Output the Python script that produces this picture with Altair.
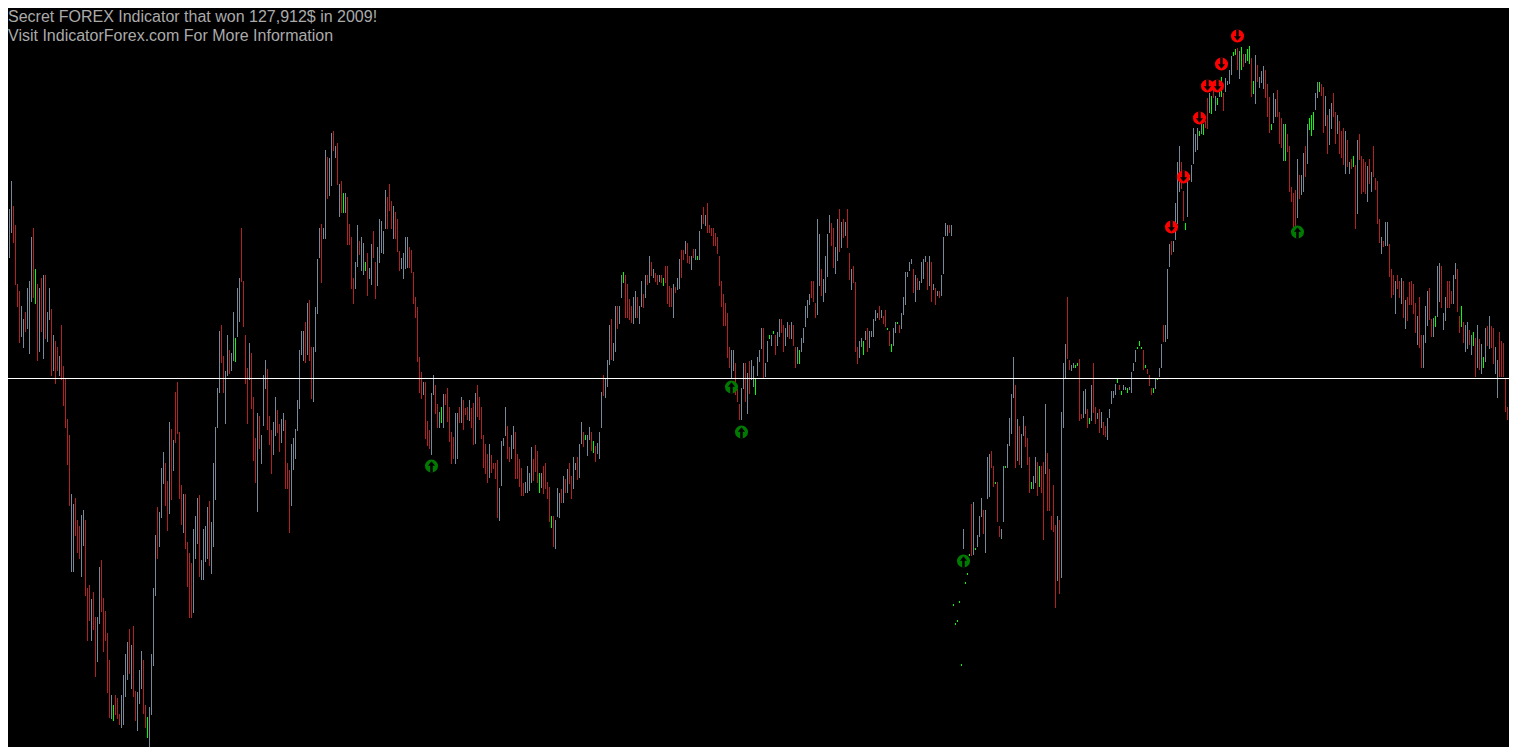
import altair as alt
import pandas as pd

TITLE_LINE_1 = "Secret FOREX Indicator that won 127,912$ in 2009!"
TITLE_LINE_2 = "Visit IndicatorForex.com For More Information"

TOP_PRICE = 1.4500
PIP = 0.0001
KINDS = ["G", "R", "L"]
KIND_COLORS = ["#778899", "#B22222", "#00FF00"]

# (kind, high, low) — levels read as points below TOP_PRICE, one bar per period
BARS_1 = [
    ("G",281,326),("R",281,306),("L",288,301),("G",237,298),("G",209,257),("G",181,232),("R",206,242),("R",225,284),("R",284,306),("R",291,342),
    ("G",306,336),("G",319,347),("R",312,331),("G",288,328),("G",281,353),("G",237,301),("R",228,297),("L",269,303),("R",284,360),("G",288,351),
    ("R",278,331),("G",275,358),("R",275,338),("G",312,341),("G",288,319),("R",309,375),("G",335,370),("R",341,383),("R",347,370),("G",356,375),
    ("R",325,379),("R",366,405),("R",379,427),("R",419,464),("R",435,505),("G",494,571),("G",504,571),("R",498,535),("R",520,552),("R",526,558),
    ("G",515,576),("G",510,545),("R",520,595),("R",588,640),("R",585,620),("G",599,640),("R",592,629),("R",617,676),("G",617,661),("G",567,623),
    ("R",560,611),("R",598,651),("R",611,640),("R",633,692),("R",660,717),("G",695,718),("L",705,720),("R",695,714),("R",698,718),("R",714,724),
    ("G",695,727),("G",675,724),("G",654,696),("G",642,679),("R",629,673),("G",645,688),("R",626,696),("R",691,720),("G",692,730),("G",670,703),
    ("G",651,688),("R",660,713),("R",705,727),("L",717,737),("G",707,752),("G",654,714),("G",588,665),("G",535,595),("R",507,558),("G",512,546),
    ("G",468,517),("G",452,483),("R",463,505),("R",481,530),("G",422,513),("R",429,499),("G",440,470),("R",392,442),("R",382,433),("R",432,498),
    ("R",485,524),("G",494,532),("R",494,548),("R",542,586),("R",553,617),("R",563,617),("G",529,612),("G",516,558),("G",498,543),("R",495,576),
    ("G",560,579),("G",529,579),("G",526,561),("G",507,558),("R",501,565),("G",522,573),("G",463,546),("G",427,499),("G",388,427),("G",331,392),
    ("R",325,362),("R",356,392),("G",371,423),("G",335,375),("R",350,373),("G",353,370),("G",312,360),("L",338,361),("G",288,336),("G",278,321),
    ("R",228,281),("R",281,326),("R",335,383),("R",368,423),("G",343,379),("R",353,408),
]
BARS_2 = [
    ("R",397,460),("R",438,482),("G",413,511),("R",416,448),("G",435,463),("G",375,425),("G",360,388),("R",369,429),("R",416,444),("R",430,473),
    ("G",422,454),("G",397,435),("R",410,432),("R",424,451),("G",419,442),("G",413,430),("R",420,488),("R",463,488),("R",470,532),("G",444,505),
    ("G",438,469),("G",429,458),("G",400,430),("G",350,408),("G",331,354),("G",331,360),("R",322,362),("G",303,354),("R",300,360),("R",347,398),
    ("G",347,401),("G",307,351),("G",259,313),("G",228,257),("R",224,282),("G",228,238),("G",150,238),("R",157,198),("G",158,195),("G",133,185),
    ("R",131,150),("G",146,157),("R",143,184),("G",184,216),("R",181,212),("L",193,212),("G",193,212),("R",197,244),("R",224,244),("R",237,288),
    ("R",278,303),("G",262,288),("G",225,266),("R",241,254),("G",237,270),("G",243,274),("L",262,270),("R",253,295),("G",268,278),("G",244,284),
    ("R",231,257),("R",262,298),("G",247,285),("G",219,262),("G",221,252),("G",231,253),("G",190,228),("R",197,228),("R",184,210),("R",201,228),
    ("G",206,238),("R",212,238),("R",219,251),("R",251,270),("G",258,268),("G",253,278),("G",237,268),("G",237,267),("R",247,267),("R",250,272),
    ("R",272,303),("R",297,317),("R",307,361),("R",357,392),("R",372,398),("G",382,394),("R",382,438),("R",421,445),("R",430,448),("G",393,454),
    ("G",375,394),("R",385,413),("R",404,427),("G",412,427),("L",407,422),("G",394,427),("R",394,404),("R",388,421),("R",407,441),("R",432,463),
    ("R",437,458),("G",413,463),("G",413,458),("R",407,422),("G",397,422),("R",400,429),("R",408,414),("R",407,419),("G",400,420),("R",408,427),
    ("R",403,444),("G",393,443),("R",385,416),("R",397,419),("R",407,438),("R",435,467),("R",444,473),("R",454,482),("G",444,477),("R",455,472),
    ("R",463,468),("R",463,478),("R",460,517),("G",488,520),("G",441,485),("G",438,445),("G",407,435),
]
BARS_3 = [
    ("R",426,458),("R",447,461),("G",435,458),("G",426,448),("R",432,478),("R",454,478),("R",459,486),("R",468,495),("R",483,495),("G",482,492),
    ("G",466,492),("G",473,490),("G",447,482),("R",459,480),("R",445,471),("R",451,482),("L",473,492),("G",473,487),("R",466,493),("R",463,488),
    ("R",482,498),("R",487,521),("L",516,527),("R",516,546),("G",520,548),("G",488,516),("G",493,517),("R",489,502),("G",476,502),("R",479,492),
    ("G",469,492),("R",463,483),("R",476,498),("G",457,488),("G",463,469),("R",457,479),("G",444,477),("G",422,443),("R",432,446),("L",435,439),
    ("G",435,455),("G",427,439),("R",432,450),("L",441,452),("R",446,461),("G",443,453),("G",432,458),("G",392,427),("R",375,395),("G",378,397),
    ("G",360,386),("G",325,364),("R",319,359),("G",343,360),("G",306,351),("R",306,328),("G",306,323),("G",275,297),("L",272,282),("R",275,317),
    ("R",284,317),("R",299,319),("R",306,322),("G",297,323),("G",291,317),("R",297,317),("G",306,323),("G",281,306),("R",294,307),("G",275,297),
    ("R",275,284),("G",256,282),("R",262,275),("G",269,277),("R",273,281),("R",275,284),("G",275,281),("R",275,282),("L",278,285),("R",266,282),
    ("R",266,303),("R",286,306),("R",288,306),("G",284,317),("R",287,292),("G",278,289),("G",259,288),("R",250,277),("R",250,259),("G",241,253),
    ("R",243,262),("R",256,263),("G",256,269),("R",249,257),("G",249,259),("L",256,259),("G",231,259),("G",215,228),("R",207,223),("G",215,225),
    ("R",203,232),("R",225,232),("R",228,235),("R",228,245),("R",233,245),("R",237,253),("R",256,285),("R",281,306),("R",294,325),("R",303,325),
    ("R",313,357),("R",347,367),("G",350,377),("G",350,370),("R",363,394),("R",389,401),("R",404,419),("G",388,419),("G",363,388),("R",363,401),
    ("G",373,413),("R",361,393),("G",360,379),("G",366,386),("L",378,394),("G",357,375),
]
BARS_4 = [
    ("G",350,361),("G",328,348),("R",328,378),("G",363,376),("G",341,361),("L",335,338),("G",335,345),("L",331,333),("R",335,354),("G",332,345),
    ("G",319,336),("R",319,332),("R",325,351),("G",328,345),("G",322,336),("R",325,338),("G",322,338),("R",325,345),("R",347,367),("G",347,363),
    ("L",350,363),("G",338,351),("G",328,342),("G",306,326),("G",300,317),("G",294,304),("R",281,297),("R",281,301),("R",303,317),("G",219,314),
    ("G",234,285),("R",269,295),("G",279,301),("G",256,292),("G",234,276),("G",215,232),("R",223,245),("R",228,267),("G",247,273),("G",219,260),
    ("R",209,251),("G",222,247),("R",219,237),("G",222,235),("R",209,247),("R",253,279),("G",269,289),("R",266,282),("R",282,351),("R",347,363),
    ("G",341,357),("G",338,346),("L",341,354),("G",331,339),("R",328,351),("G",331,347),("G",331,336),("G",319,336),("G",310,320),("G",313,317),
    ("R",306,319),("G",310,317),("R",316,323),("R",310,326),("L",328,329),("R",331,345),("L",344,351),("G",328,345),("G",322,332),("L",322,323),
    ("R",325,332),("G",313,328),("G",297,314),("G",272,304),("G",272,276),("G",262,270),("G",259,263),("R",269,292),("G",275,301),("R",278,289),
    ("G",281,289),("G",262,282),("G",259,278),("G",256,261),("R",262,289),("G",256,285),("R",262,301),("G",284,289),("R",288,304),("G",291,295),
    ("R",291,297),("G",275,295),("G",237,273),("G",223,235),("G",225,235),("R",225,232),("G",225,235),("L",604,605),("L",623,624),("L",620,621),
    ("L",601,602),("L",664,665),("G",529,548),("L",582,583),("L",573,574),("L",554,555),("R",504,555),("G",502,554),("L",548,549),("G",535,546),
    ("G",516,536),("G",498,516),("R",510,533),("G",510,552),("G",457,498),("G",454,496),("R",451,467),("R",466,486),("L",482,483),("R",482,521),
    ("R",526,536),("G",529,538),("G",466,521),("L",466,467),("G",444,467),("G",418,445),("G",394,433),
]
BARS_5 = [
    ("G",357,397),("R",385,467),("G",419,460),("R",426,464),("G",434,467),("G",416,435),("R",426,446),("R",438,464),("R",457,492),("L",482,488),
    ("G",476,488),("G",457,482),("R",462,495),("L",466,486),("R",466,492),("R",462,539),("G",404,473),("R",453,510),("R",469,510),("R",516,529),
    ("R",485,531),("R",525,607),("G",516,580),("R",520,593),("G",412,577),("G",363,427),("G",344,377),("R",297,358),("R",360,369),("G",365,370),
    ("G",363,367),("L",365,367),("L",363,365),("R",359,420),("R",414,418),("G",391,417),("G",389,413),("R",409,427),("L",418,423),("G",385,420),
    ("R",363,412),("R",407,423),("G",413,418),("R",409,432),("G",412,427),("R",422,434),("R",426,436),("G",418,439),("G",409,417),("G",391,403),
    ("G",391,397),("G",384,394),("L",378,382),("R",385,389),("L",391,394),("G",385,389),("G",387,389),("L",388,392),("G",387,389),("G",372,392),
    ("G",363,370),("G",350,361),("L",347,348),("L",341,345),("L",347,348),("R",350,369),("L",365,367),("R",369,373),("R",375,385),("R",388,394),
    ("L",388,392),("G",378,388),("L",378,379),("G",368,376),("G",344,367),("R",325,341),("G",325,341),("G",269,338),("G",244,266),("R",241,254),
    ("G",241,251),("G",203,239),("G",162,223),("G",146,191),("R",162,188),("R",191,220),("L",223,229),("G",175,216),("L",175,179),("G",165,181),
    ("G",128,163),("G",134,151),("G",128,149),("L",131,135),("G",122,133),("L",124,134),("R",121,127),("R",98,128),("G",93,112),("L",96,113),
    ("R",88,97),("G",96,110),("L",98,104),("G",91,96),("L",77,96),("R",93,110),("G",78,91),("G",81,84),("G",70,83),("G",56,74),
    ("L",52,55),("L",49,54),("R",48,69),("G",51,78),("L",47,69),("R",54,66),("G",54,62),("L",49,60),("L",46,63),("R",58,96),
    ("L",81,93),("G",55,103),("R",65,81),("G",77,87),("G",71,82),("G",66,88),
]
BARS_6 = [
    ("R",70,97),("R",84,116),("R",97,132),("L",124,129),("G",93,122),("G",99,116),("R",90,116),("R",112,143),("R",118,147),("G",124,160),
    ("L",124,160),("R",134,151),("R",146,191),("R",187,201),("R",193,227),("R",190,226),("G",159,217),("R",175,198),("G",175,194),("G",153,191),
    ("R",146,176),("G",124,163),("L",118,129),("L",115,135),("L",112,129),("G",93,109),("G",82,97),("L",82,91),("R",84,95),("R",87,132),
    ("G",96,125),("R",115,153),("G",109,144),("G",103,128),("R",93,116),("R",112,143),("G",115,133),("R",121,153),("R",131,157),("R",128,164),
    ("G",131,173),("R",140,166),("G",162,173),("R",159,168),("L",156,166),("R",165,228),("G",140,213),("R",134,159),("R",156,193),("R",159,191),
    ("R",162,193),("G",166,201),("R",159,183),("G",172,191),("R",146,176),("R",178,189),("R",181,223),("R",219,242),("G",237,253),("R",241,246),
    ("G",222,245),("G",222,245),("R",244,276),("R",269,297),("R",275,294),("G",281,313),("R",275,288),("R",281,297),("G",278,303),("R",281,317),
    ("G",300,328),("R",297,320),("R",282,304),("R",281,304),("R",284,313),("R",303,332),("G",316,344),("R",297,347),("R",335,367),("G",335,367),
    ("G",306,342),("G",291,325),("R",288,319),("R",319,336),("G",318,336),("L",316,326),("G",266,316),("G",263,301),("R",266,307),("G",313,329),
    ("G",297,320),("R",281,307),("R",281,307),("R",291,303),("G",275,303),("G",263,278),("R",269,311),("R",316,332),("L",306,326),("R",322,342),
    ("G",325,351),("G",322,348),("R",330,344),("G",335,354),("L",332,345),("R",338,376),("G",325,367),("R",339,369),("G",344,373),("L",357,367),
    ("G",328,361),("R",326,345),("G",316,348),("R",326,347),("R",328,363),("G",347,373),("G",360,397),("R",332,376),("R",341,376),("R",343,376),
    ("R",378,411),("R",407,419),("R",410,442),("G",435,461),("G",447,461),("R",447,463),
]

SELL_SIGNAL_BAR = [585, 591, 599, 603, 608, 610, 618]
SELL_SIGNAL_PTS = [227, 177, 118, 86, 86, 64, 36]
BUY_SIGNAL_BAR = [215, 365, 370, 481, 648]
BUY_SIGNAL_PTS = [466, 387, 432, 561, 232]
LEVEL_PTS = [378]

W, H = 1501, 739

bars = BARS_1 + BARS_2 + BARS_3 + BARS_4 + BARS_5 + BARS_6
df = pd.DataFrame(bars, columns=["kind", "hi", "lo"])
df["bar"] = range(len(df))
df["high"] = TOP_PRICE - df["hi"] * PIP
df["low"] = TOP_PRICE - (df["lo"] + 1) * PIP

sell = pd.DataFrame({"bar": SELL_SIGNAL_BAR, "pts": SELL_SIGNAL_PTS})
sell["price"] = TOP_PRICE - sell["pts"] * PIP
buy = pd.DataFrame({"bar": BUY_SIGNAL_BAR, "pts": BUY_SIGNAL_PTS})
buy["price"] = TOP_PRICE - buy["pts"] * PIP
lvl = pd.DataFrame({"price": [TOP_PRICE - (p + 0.5) * PIP for p in LEVEL_PTS]})

# 2 px per bar, view window aligned to the reference frame
xsc = alt.Scale(domain=[3.25, 3.25 + W / 2.0], nice=False, zero=False)
ysc = alt.Scale(domain=[TOP_PRICE - (8 + H) * PIP, TOP_PRICE - 8 * PIP], nice=False, zero=False)

bar_layer = alt.Chart(df).mark_rule(strokeWidth=1, clip=True).encode(
    x=alt.X("bar:Q", scale=xsc, axis=None),
    y=alt.Y("high:Q", scale=ysc, axis=None),
    y2="low:Q",
    color=alt.Color("kind:N", scale=alt.Scale(domain=KINDS, range=KIND_COLORS), legend=None),
)

level_layer = alt.Chart(lvl).mark_rule(color="#ffffff", strokeWidth=1).encode(
    y=alt.Y("price:Q", scale=ysc, axis=None)
)

DOWN_ARROW = "M-0.2,-1 L0.2,-1 L0.2,0.05 L0.55,0.05 L0,0.72 L-0.55,0.05 L-0.2,0.05 Z"
UP_ARROW = "M-0.2,1 L0.2,1 L0.2,-0.05 L0.55,-0.05 L0,-0.72 L-0.55,-0.05 L-0.2,-0.05 Z"


def marker(data, fill, arrow):
    enc = dict(
        x=alt.X("bar:Q", scale=xsc, axis=None),
        y=alt.Y("price:Q", scale=ysc, axis=None),
    )
    dot = alt.Chart(data).mark_point(shape="circle", filled=True, size=170, opacity=1, color=fill).encode(**enc)
    arr = alt.Chart(data).mark_point(shape=arrow, filled=True, size=170, opacity=1, color="#000000").encode(**enc)
    return dot + arr


sell_layer = marker(sell, "#ff0000", DOWN_ARROW)
buy_layer = marker(buy, "#007a00", UP_ARROW)

t1 = alt.Chart(pd.DataFrame({"t": [TITLE_LINE_1]})).mark_text(
    align="left", baseline="alphabetic", font="Liberation Sans", fontSize=16, color="#aaaaaa"
).encode(x=alt.value(0), y=alt.value(14), text="t:N")
t2 = alt.Chart(pd.DataFrame({"t": [TITLE_LINE_2]})).mark_text(
    align="left", baseline="alphabetic", font="Liberation Sans", fontSize=16, color="#aaaaaa"
).encode(x=alt.value(0), y=alt.value(33), text="t:N")

chart = alt.layer(bar_layer, level_layer, sell_layer, buy_layer, t1, t2).properties(
    width=W, height=H, padding=0, autosize=alt.AutoSizeParams(type="none")
).configure(background="#000000").configure_view(stroke=None)

chart.save("out.html", embed_options={"renderer": "svg", "actions": False})
